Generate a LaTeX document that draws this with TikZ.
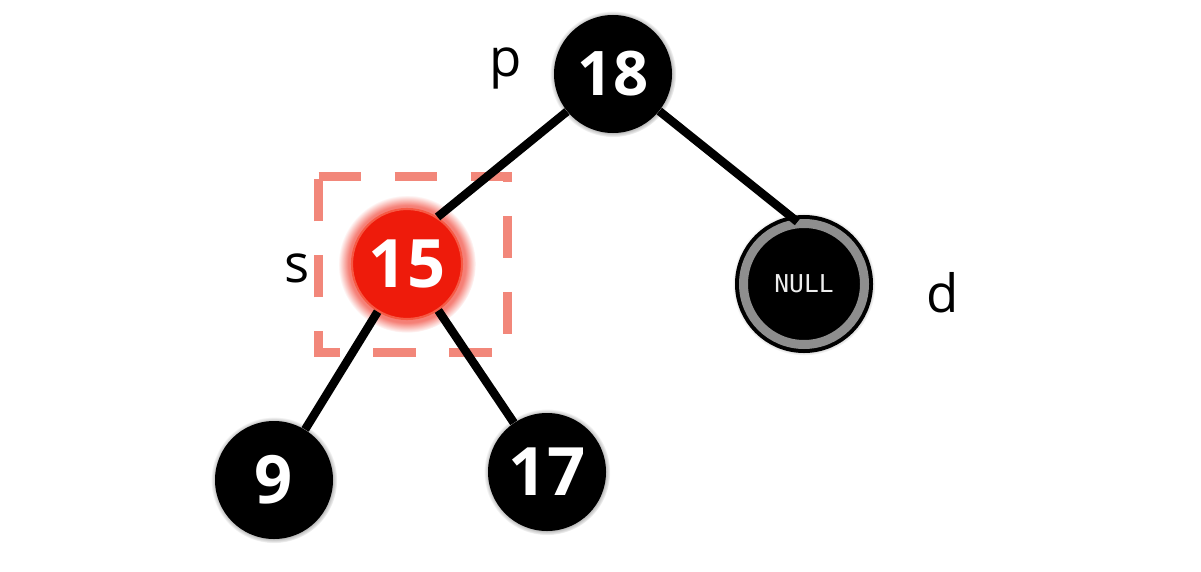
\documentclass[tikz,border=0pt]{standalone}
\usepackage{fontspec}
\setmainfont{Open Sans}
\newfontfamily\nilfont{DejaVu Sans Mono}
\usetikzlibrary{positioning,shadows}
\definecolor{Ink}{HTML}{000000}
\definecolor{Ember}{HTML}{EE1B0B}
\definecolor{EmberRim}{HTML}{F65A45}
\definecolor{Salmon}{HTML}{F2877A}
\definecolor{Ring}{HTML}{8E8E8E}
\definecolor{Chalk}{HTML}{EDEDED}
\tikzset{
  blacknode/.style={
    circle, fill=Ink, text=white, minimum size=2.36cm, inner sep=0pt,
    font=\fontsize{38}{40}\selectfont\bfseries,
    circular glow={fill=black!55, shadow scale=1.07}
  },
  rednode/.style={
    circle, fill=Ember, draw=EmberRim, line width=1.2pt, text=white,
    minimum size=2.2cm, inner sep=0pt,
    font=\fontsize{38}{40}\selectfont\bfseries,
    circular glow={fill=Ember!80, shadow scale=1.25, opacity=.7}
  },
  nilnode/.style={
    circle, fill=Ink, draw=Ink, line width=0.08cm, double=Ring,
    double distance=0.18cm, minimum size=2.42cm, inner sep=0pt,
    text=Chalk, font=\fontsize{14}{16}\selectfont\nilfont,
    circular glow={fill=black!45, shadow scale=1.18}
  },
  selbox/.style={
    rectangle, minimum width=3.76cm, minimum height=3.5cm, inner sep=0pt
  },
  selline/.style={
    draw=Salmon, line width=0.18cm, dash pattern=on 0.85cm off 0.67cm
  },
  lbl/.style={font=\fontsize{30}{36}\selectfont, text=Ink, inner sep=0pt, anchor=base},
  treeedge/.style={line width=0.17cm, draw=Ink}
}

\begin{document}
\begin{tikzpicture}[on grid]
    \useasboundingbox (0,0) rectangle (24.02,11.42);
    \node[blacknode,font=\fontsize{35}{38}\selectfont\bfseries] (n18) at (12.26,9.94) {18};
    \node[rednode,below left=3.80cm and 4.12cm of n18] (n15) {15};
    \node[nilnode,below right=4.20cm and 3.82cm of n18] (nnull) {NULL};
    \node[blacknode,below left=4.32cm and 2.66cm of n15] (n9) {9};
    \node[blacknode,below right=4.16cm and 2.80cm of n15] (n17) {17};
    \node[selbox] (sel) at (8.26,6.13) {};
    \node[lbl] (lp) at (10.12,9.88) {p};
    \node[lbl] (ls) at (5.94,5.78) {s};
    \node[lbl] (ld) at (18.86,5.18) {d};
    \draw[selline] (sel.north west)--(sel.north east)--(sel.south east)--(sel.south west)--cycle;
    \draw[treeedge] (n18)--(n15.57);
    \draw[treeedge] (n18)--(nnull.96);
    \draw[treeedge] (n15)--(n9);
    \draw[treeedge] (n15)--(n17);
  \end{tikzpicture}
\end{document}
